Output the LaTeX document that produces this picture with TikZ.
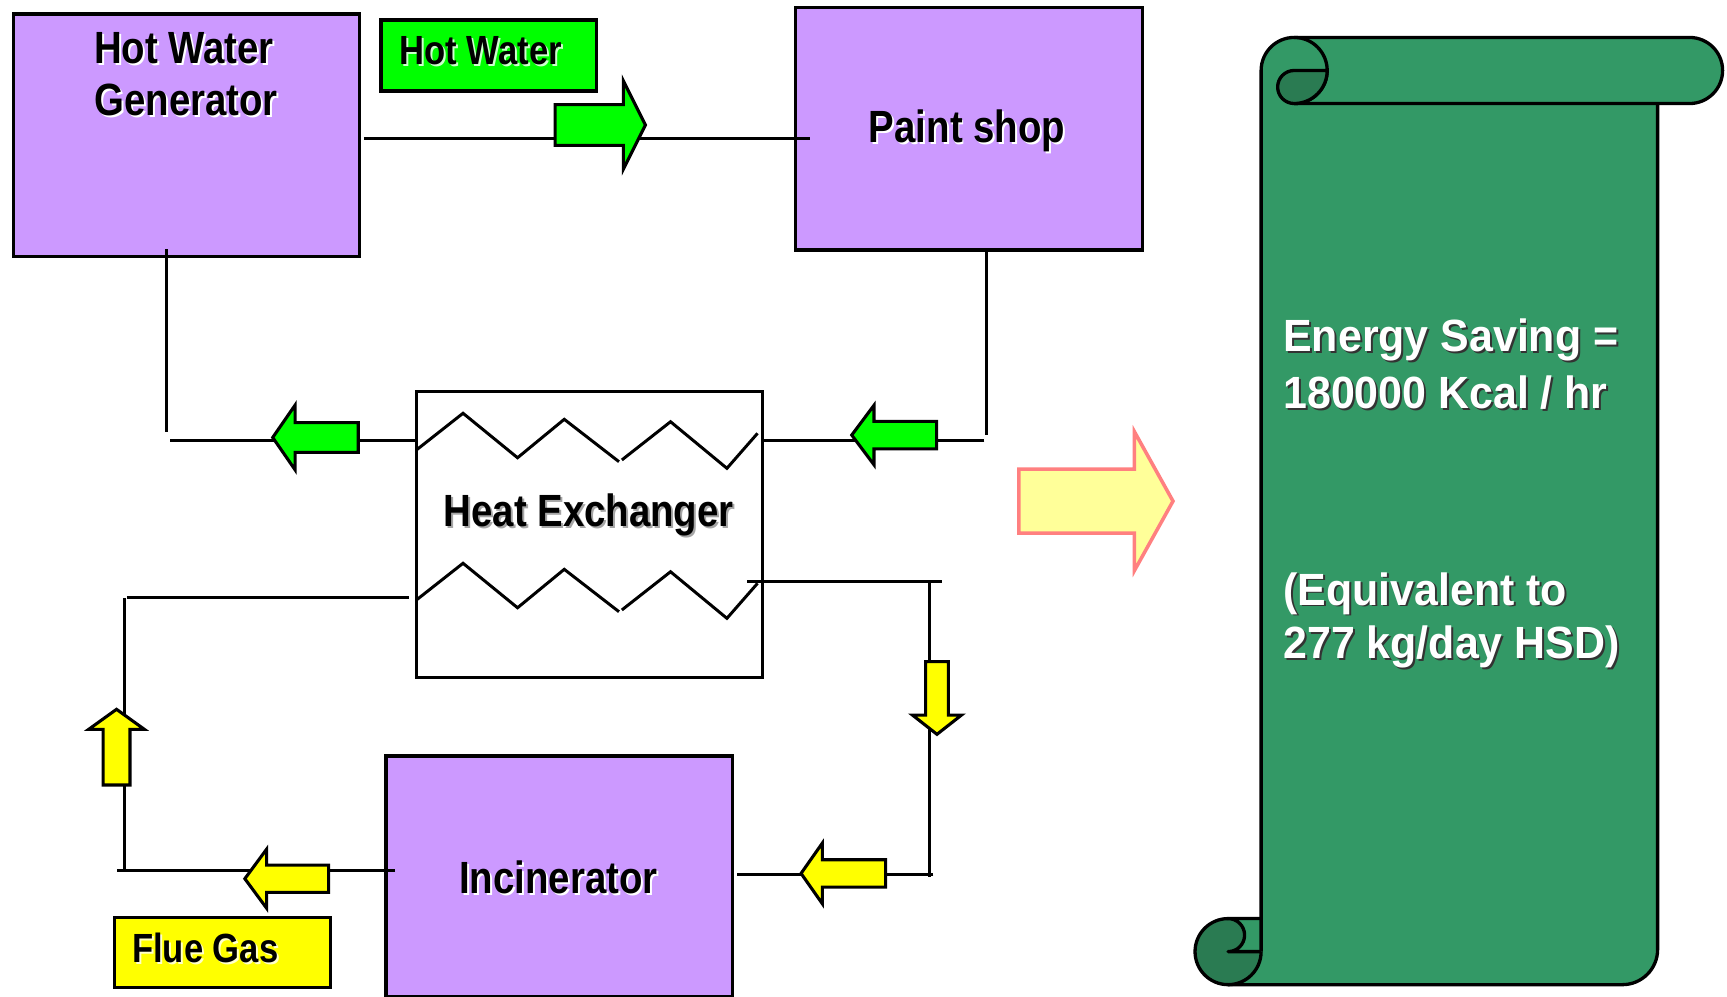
\documentclass[tikz,border=0pt]{standalone}
\usepackage{fontspec}
\newfontfamily\boxfont[FakeStretch=0.85]{Liberation Sans}
\newfontfamily\scrollfont[FakeStretch=0.95]{Liberation Sans}
\definecolor{lav}{HTML}{CC99FF}
\definecolor{flowgreen}{HTML}{00FF00}
\definecolor{flowyellow}{HTML}{FFFF00}
\definecolor{scrollgreen}{HTML}{339966}
\definecolor{scrolldark}{HTML}{2A7B52}
\definecolor{bigfill}{HTML}{FFFF99}
\definecolor{bigdraw}{HTML}{FF8080}
\newcommand\shadowed[2]{\leavevmode\rlap{\raisebox{-1.8pt}{\kern1.8pt\textcolor{#1}{#2}}}#2}
\newcommand\blockH[7]{\draw[#7] (#1,#2) -- (#3,{#2-#4}) -- (#3,{#2-#6}) -- (#5,{#2-#6}) -- (#5,{#2+#6}) -- (#3,{#2+#6}) -- (#3,{#2+#4}) -- cycle;}
\newcommand\blockV[7]{\draw[#7] (#2,#1) -- ({#2-#4},#3) -- ({#2-#6},#3) -- ({#2-#6},#5) -- ({#2+#6},#5) -- ({#2+#6},#3) -- ({#2+#4},#3) -- cycle;}
\tikzset{
  procbox/.style={draw=black, line width=3pt, fill=lav, anchor=north west, inner sep=0pt},
  labelbox/.style={draw=black, line width=3pt, anchor=north west, inner sep=0pt},
  pipe/.style={line width=2.7pt, black},
  zig/.style={line width=2.7pt, black, line join=miter},
  greenarrow/.style={draw=black, fill=flowgreen, line width=2.8pt, line join=miter},
  yellowarrow/.style={draw=black, fill=flowyellow, line width=2.8pt, line join=miter},
  bigarrow/.style={draw=bigdraw, fill=bigfill, line width=3.2pt, line join=miter},
  boxtext/.style={font=\boxfont\bfseries\fontsize{41}{48}\selectfont, inner sep=0pt, anchor=base, text=black},
  smalltext/.style={font=\boxfont\bfseries\fontsize{37}{44}\selectfont, inner sep=0pt, anchor=base, text=black},
  scrolltext/.style={font=\scrollfont\bfseries\fontsize{41}{48}\selectfont, inner sep=0pt, anchor=base west, text=white},
  scrollline/.style={line width=3pt, black, line join=round},
}
\begin{document}
\begin{tikzpicture}[x=1pt,y=-1pt]
\useasboundingbox (0,0) rectangle (1568,905);

% ---------- boxes ----------
\node[procbox, minimum width=314.1pt, minimum height=220.3pt] (hwg) at (10.6,11.2) {};
\node[procbox, minimum width=315pt, minimum height=220.4pt] (paint) at (721,5.1) {};
\node[labelbox, fill=white, minimum width=313.9pt, minimum height=259.5pt] (hex) at (376.8,354) {};
\node[procbox, minimum width=314.7pt, minimum height=218.4pt] (inc) at (349,685) {};
\node[labelbox, fill=flowgreen, minimum width=195.8pt, minimum height=64.5pt] (hwlabel) at (344.5,16.6) {};
\node[labelbox, fill=flowyellow, minimum width=195.8pt, minimum height=63.5pt] (fglabel) at (102.6,831.7) {};

% ---------- heat exchanger coils ----------
\foreach \dy in {0,136.2}{
  \begin{scope}[shift={(0,\dy)}]
    \draw[zig] (378,408.6) -- (420.4,375.2) -- (469.9,415.6) -- (512.3,380.7) -- (562,419.2);
    \draw[zig] (564.6,417.6) -- (608.8,382.9) -- (660,425.2) -- (687.8,393.4);
  \end{scope}
}

% ---------- connector coordinates ----------
\coordinate (a1) at (330.3,125.6);  \coordinate (a2) at (735.4,125.6);
\coordinate (b1) at (151.3,226.4);  \coordinate (b2) at (151.3,392.5);
\coordinate (c1) at (154.4,399.8);  \coordinate (c2) at (376.8,399.8);
\coordinate (d1) at (895.8,225.5);  \coordinate (d2) at (895.8,395);
\coordinate (e1) at (893.7,399.5);  \coordinate (e2) at (690.7,399.5);
\coordinate (f1) at (678.5,528.1);  \coordinate (f2) at (855,528.1);
\coordinate (g1) at (843.5,528.1);  \coordinate (g2) at (843.5,796.5);
\coordinate (h1) at (847.4,793.8);  \coordinate (h2) at (669.4,793.8);
\coordinate (i1) at (358.7,790);    \coordinate (i2) at (106.5,790);
\coordinate (j1) at (113.1,790);    \coordinate (j2) at (113.1,543.2);
\coordinate (k1) at (115.3,542.6);  \coordinate (k2) at (371,542.6);

\draw[pipe] (a1) -- (a2);
\draw[pipe] (b1) -- (b2);
\draw[pipe] (c1) -- (c2);
\draw[pipe] (d1) -- (d2);
\draw[pipe] (e1) -- (e2);
\draw[pipe] (f1) -- (f2);
\draw[pipe] (g1) -- (g2);
\draw[pipe] (h1) -- (h2);
\draw[pipe] (i1) -- (i2);
\draw[pipe] (j1) -- (j2);
\draw[pipe] (k1) -- (k2);

% ---------- block arrows ----------
\blockH{586}{113.5}{566}{40}{504}{18.5}{greenarrow}
\blockH{247.6}{397.2}{268}{29.5}{325.3}{13.5}{greenarrow}
\blockH{773.3}{395}{793.5}{27}{850.4}{12.5}{greenarrow}
\blockV{666.7}{850.7}{649.2}{22.3}{600.7}{10.3}{yellowarrow}
\blockH{727.3}{793}{746.6}{27.5}{804.1}{12.4}{yellowarrow}
\blockH{222.3}{797.8}{242}{26.7}{298.4}{12.4}{yellowarrow}
\blockV{644}{105.8}{662.2}{25.3}{712.7}{12.2}{yellowarrow}
\blockH{1065}{455}{1030}{63}{925}{29}{bigarrow}

% ---------- scroll ----------
\fill[scrollgreen] (1145,64) -- (1145,894) -- (1473,894) arc[start angle=90,end angle=0,radius=32] -- (1505,64) -- cycle;
\fill[scrollgreen] (1175,34) -- (1534,34) arc[start angle=270,end angle=450,radius=30] -- (1175,94) arc[start angle=90,end angle=270,radius=30] -- cycle;
\fill[scrollgreen] (1115,834) rectangle (1146,894);
\fill[scrolldark] (1115,864) circle[radius=30];
\fill[scrollgreen] (1115,834) rectangle (1145,864);
\fill[scrolldark] (1115,834) arc[start angle=270,end angle=450,radius=15] -- cycle;
\draw[scrollline] (1505,94) -- (1505,862) arc[start angle=0,end angle=90,radius=32] -- (1115,894);
\draw[scrollline] (1115,834) arc[start angle=270,end angle=0,radius=30];
\draw[scrollline] (1145,834) -- (1115,834) arc[start angle=270,end angle=450,radius=15] -- (1145,864);
\draw[scrollline] (1145,864) -- (1145,64) arc[start angle=180,end angle=270,radius=30] -- (1534,34) arc[start angle=270,end angle=450,radius=30] -- (1175,94);
\draw[scrollline] (1175,34) arc[start angle=270,end angle=450,radius=30];
\filldraw[scrollline, fill=scrolldark] (1175,64) -- (1205,64) arc[start angle=0,end angle=90,radius=30] arc[start angle=90,end angle=270,radius=15] -- cycle;

% ---------- texts ----------
\node[boxtext] (hwgt1) at (167,57.5) {\shadowed{white}{Hot Water}};
\node[boxtext] (hwgt2) at (169,105) {\shadowed{white}{Generator}};
\node[smalltext] (hwlt) at (436.5,59) {\shadowed{white!80!flowgreen}{Hot Water}};
\node[boxtext] (paintt) at (878,129.5) {\shadowed{white}{Paint shop}};
\node[boxtext] (hext) at (534.5,478.2) {\shadowed{black!35}{Heat Exchanger}};
\node[boxtext] (inct) at (507,811) {\shadowed{white}{Incinerator}};
\node[smalltext] (fgt) at (186.4,874) {\shadowed{white!80!flowyellow}{Flue Gas}};

\node[scrolltext] (s1) at (1165,319.3) {\shadowed{black!80}{Energy Saving =}};
\node[scrolltext] (s2) at (1165,370.7) {\shadowed{black!80}{180000 Kcal / hr}};
\node[scrolltext] (s3) at (1165,549.3) {\shadowed{black!80}{(Equivalent to}};
\node[scrolltext] (s4) at (1165,597.7) {\shadowed{black!80}{277 kg/day HSD)}};
\end{tikzpicture}
\end{document}
